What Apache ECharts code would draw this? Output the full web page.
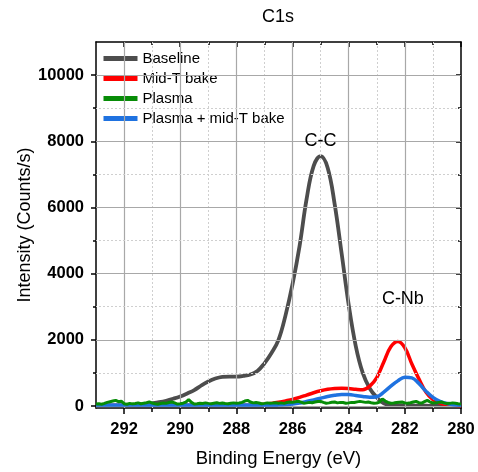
<!DOCTYPE html>
<html>
<head>
<meta charset="utf-8">
<script src="https://cdn.jsdelivr.net/npm/echarts@6/dist/echarts.min.js"></script>
<style>
  html, body { margin: 0; padding: 0; background: #fff; }
  #c1s { width: 478px; height: 472px; }
</style>
</head>
<body>
<div id="c1s"></div>
<script>
// smooth curves sampled every 0.25 eV, 293 -> 280
var energy = [293, 292.75, 292.5, 292.25, 292, 291.75, 291.5, 291.25, 291, 290.75,
  290.5, 290.25, 290, 289.75, 289.5, 289.25, 289, 288.75, 288.5, 288.25,
  288, 287.75, 287.5, 287.25, 287, 286.75, 286.5, 286.25, 286, 285.75,
  285.5, 285.25, 285, 284.75, 284.5, 284.25, 284, 283.75, 283.5, 283.25,
  283, 282.75, 282.5, 282.25, 282, 281.75, 281.5, 281.25, 281, 280.75,
  280.5, 280.25, 280];

var baseline = [0, 0, 0, 5, 8, 15, 30, 50, 80, 115,
  160, 220, 290, 380, 480, 620, 740, 830, 880, 890,
  890, 910, 950, 1060, 1290, 1600, 2000, 2740, 3680, 4830,
  6250, 7250, 7550, 7200, 6100, 4600, 3060, 1820, 1000, 530,
  260, 80, 40, 25, 20, 15, 10, 8, 5, 3,
  0, 0, 0];

var midTBake = [20, 20, 20, 20, 20, 20, 20, 20, 20, 20,
  20, 20, 20, 20, 20, 20, 20, 20, 20, 20,
  20, 20, 20, 30, 50, 80, 115, 155, 200, 260,
  330, 400, 460, 505, 530, 540, 530, 505, 490, 600,
  860, 1330, 1790, 1950, 1760, 1270, 820, 420, 190, 90,
  40, 20, 10];

var plasmaMidT = [30, 30, 30, 30, 30, 30, 30, 30, 30, 30,
  30, 30, 30, 30, 30, 30, 30, 30, 30, 30,
  30, 30, 30, 30, 30, 30, 35, 45, 60, 90,
  135, 185, 235, 285, 325, 350, 345, 320, 290, 265,
  280, 420, 600, 760, 870, 850, 680, 450, 260, 140,
  75, 40, 25];

// noisy plasma trace sampled every 0.1 eV, 293.0 -> 280.0
var plasmaStart = 293.0;
var plasmaStep = 0.1;
var plasma = [60, 70, 55, 80, 110, 130, 150, 170, 130, 145,
  70, 55, 80, 65, 75, 95, 70, 85, 100, 125,
  90, 70, 55, 75, 90, 80, 105, 120, 95, 60,
  70, 85, 120, 195, 110, 60, 70, 85, 75, 95,
  80, 70, 85, 100, 80, 90, 75, 70, 85, 95,
  85, 90, 110, 150, 170, 120, 95, 105, 90, 70,
  80, 95, 85, 90, 100, 85, 95, 80, 105, 120,
  110, 130, 145, 115, 85, 95, 110, 100, 120, 135,
  140, 110, 85, 95, 115, 120, 95, 110, 105, 85,
  95, 110, 105, 125, 140, 125, 110, 120, 100, 85,
  90, 120, 215, 150, 110, 85, 90, 105, 115, 120,
  95, 85, 100, 120, 140, 100, 90, 130, 170, 120,
  90, 95, 110, 120, 95, 75, 80, 95, 85, 70,
  60];

var xMajor = [280, 282, 284, 286, 288, 290, 292];
var xMinor = [281, 283, 285, 287, 289, 291];
var yMajor = [0, 2000, 4000, 6000, 8000, 10000];
var yMinor = [1000, 3000, 5000, 7000, 9000];

var seriesNames = ['Baseline', 'Mid-T bake', 'Plasma', 'Plasma + mid-T bake'];
var peakLabels = [
  { name: 'C-C', e: 285.0, v: 8000 },
  { name: 'C-Nb', e: 282.07, v: 3220 }
];

var font = 'Liberation Sans, Arial, Helvetica, sans-serif';
var xRange = { min: 280, max: 293 };
var yRange = { min: -60, max: 11000 };

function pairs(xs, ys) {
  var out = [];
  for (var i = 0; i < ys.length; i++) out.push([xs[i], ys[i]]);
  return out;
}
var plasmaE = [];
for (var i = 0; i < plasma.length; i++) plasmaE.push(+(plasmaStart - i * plasmaStep).toFixed(1));

function plain(v) { return String(v); }

function xAxisDef(pos, ticks, len, inside, labels, line) {
  return {
    type: 'value', position: pos, inverse: true, min: xRange.min, max: xRange.max,
    axisLine: { show: line, onZero: false, lineStyle: { color: '#000', width: 1.5 } },
    axisTick: { show: true, customValues: ticks, length: len, inside: inside, lineStyle: { color: '#000', width: 1.5 } },
    axisLabel: labels ? { show: true, customValues: ticks, formatter: plain, margin: 13, color: '#000', fontWeight: 'bold', fontSize: 16.5, fontFamily: font } : { show: false },
    splitLine: { show: false }
  };
}
function yAxisDef(pos, ticks, len, inside, labels, line) {
  return {
    type: 'value', position: pos, min: yRange.min, max: yRange.max,
    axisLine: { show: line, onZero: false, lineStyle: { color: '#000', width: 1.5 } },
    axisTick: { show: true, customValues: ticks, length: len, inside: inside, lineStyle: { color: '#000', width: 1.5 } },
    axisLabel: labels ? { show: true, customValues: ticks, formatter: plain, margin: 12, color: '#000', fontWeight: 'bold', fontSize: 16.5, fontFamily: font } : { show: false },
    splitLine: { show: false }
  };
}

var xAxes = [
  xAxisDef('bottom', xMajor, 6, false, true, true),
  xAxisDef('bottom', xMinor, 4, false, false, false),
  xAxisDef('top', xMajor, 5, true, false, true),
  xAxisDef('top', xMinor, 3, true, false, false)
];
xAxes[0].name = 'Binding Energy (eV)';
xAxes[0].nameLocation = 'middle';
xAxes[0].nameMoveOverlap = false;
xAxes[0].nameGap = 41;
xAxes[0].nameTextStyle = { color: '#000', fontSize: 18.5, fontFamily: font };

var yAxes = [
  yAxisDef('left', yMajor, 5, false, true, true),
  yAxisDef('left', yMinor, 3, false, false, false),
  yAxisDef('right', yMajor, 5, true, false, true),
  yAxisDef('right', yMinor, 3, true, false, false)
];
yAxes[0].name = 'Intensity (Counts/s)';
yAxes[0].nameLocation = 'middle';
yAxes[0].nameMoveOverlap = false;
yAxes[0].nameGap = 62;
yAxes[0].nameTextStyle = { color: '#000', fontSize: 18, fontFamily: font };

var gridLines = [];
xMajor.slice(1).forEach(function (v) { gridLines.push({ xAxis: v, lineStyle: { color: '#a8a8a8', width: 1.2, type: 'solid' } }); });
xMinor.forEach(function (v) { gridLines.push({ xAxis: v, lineStyle: { color: '#cfcfcf', width: 1, type: [2, 2] } }); });
yMajor.forEach(function (v) { gridLines.push({ yAxis: v, lineStyle: { color: '#a8a8a8', width: 1.2, type: 'solid' } }); });
yMinor.forEach(function (v) { gridLines.push({ yAxis: v, lineStyle: { color: '#cfcfcf', width: 1, type: [2, 2] } }); });

var chart = echarts.init(document.getElementById('c1s'));
var option = {
  animation: false,
  textStyle: { fontFamily: font },
  grid: { left: 96, right: 17, top: 42, bottom: 64, outerBoundsMode: 'none' },
  graphic: [{
    type: 'text', x: 278, y: 17,
    style: { text: 'C1s', align: 'center', verticalAlign: 'middle', fontSize: 18, fontFamily: font, fill: '#000' }
  }],
  legend: {
    data: seriesNames, orient: 'vertical', left: 101, top: 51, padding: 0,
    itemWidth: 34, itemHeight: 14, itemGap: 5,
    textStyle: { fontSize: 15, fontFamily: font, color: '#000' },
    lineStyle: { width: 5 },
    itemStyle: { opacity: 0 }
  },
  xAxis: xAxes,
  yAxis: yAxes,
  series: [
    {
      name: 'grid', type: 'line', data: [[286, 0]], symbol: 'none', silent: true, z: 1,
      lineStyle: { opacity: 0 },
      markLine: { silent: true, symbol: ['none', 'none'], label: { show: false }, animation: false, data: gridLines }
    },
    {
      name: seriesNames[0], type: 'line', data: pairs(energy, baseline), smooth: 0.4, symbol: 'none',
      color: '#4d4d4d', lineStyle: { width: 3.8, color: '#4d4d4d' }, z: 3,
      markPoint: {
        symbol: 'circle', symbolSize: 0,
        label: { show: true, position: 'inside', formatter: '{b}', color: '#000', fontSize: 18, fontFamily: font },
        data: peakLabels.map(function (p) { return { name: p.name, coord: [p.e, p.v] }; })
      }
    },
    {
      name: seriesNames[1], type: 'line', data: pairs(energy, midTBake), smooth: 0.4, symbol: 'none',
      color: '#ff0000', lineStyle: { width: 3.5, color: '#ff0000' }, z: 4
    },
    {
      name: seriesNames[3], type: 'line', data: pairs(energy, plasmaMidT), smooth: 0.4, symbol: 'none',
      color: '#1f72e0', lineStyle: { width: 3.5, color: '#1f72e0' }, z: 5
    },
    {
      name: seriesNames[2], type: 'line', data: pairs(plasmaE, plasma), symbol: 'none',
      color: '#078c07', lineStyle: { width: 3, color: '#078c07' }, z: 6
    }
  ]
};
chart.setOption(option);
</script>
</body>
</html>
